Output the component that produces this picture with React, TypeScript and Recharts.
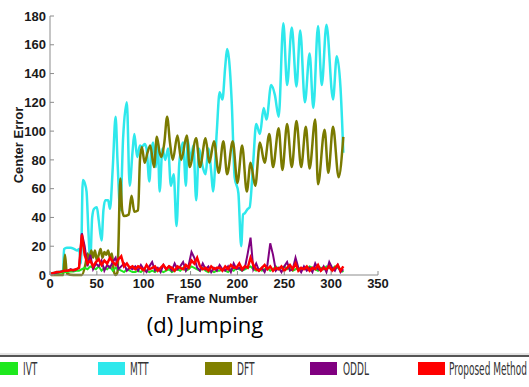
import React from 'react';
import { LineChart, Line, XAxis, YAxis } from 'recharts';

// MTT and DFT: frames where the curve turns
const mttFrames = [1, 8, 14, 15, 18, 22, 26, 29, 31, 33, 35, 37, 39, 41, 43, 45, 47, 50, 52, 55, 57, 59, 62, 64, 67, 70, 72, 75, 78, 82, 85, 88, 90, 93, 96, 98, 101, 103, 106, 108, 110, 113, 115, 117, 120, 123, 126, 129, 132, 135, 138, 142, 145, 147, 150, 153, 156, 159, 163, 166, 169, 172, 174, 178, 181, 184, 187, 189, 191, 194, 197, 201, 204, 206, 208, 211, 213, 217, 220, 224, 228, 231, 236, 240, 244, 249, 253, 258, 263, 267, 272, 277, 281, 286, 290, 295, 302, 306, 310, 313];
const mttValues = [1, 2, 3, 18, 19, 19, 18, 17, 18, 8, 66, 64, 58, 30, 10, 40, 46, 47, 38, 24, 45, 52, 52, 46, 75, 110, 80, 45, 95, 120, 62, 85, 98, 82, 90, 89, 91, 88, 65, 85, 92, 75, 93, 58, 88, 80, 88, 62, 70, 34, 78, 92, 62, 94, 80, 90, 52, 88, 75, 70, 88, 72, 58, 100, 127, 122, 145, 157, 150, 119, 68, 57, 20, 42, 43, 46, 47, 80, 105, 98, 116, 108, 132, 125, 110, 175, 132, 172, 131, 170, 120, 154, 116, 173, 132, 174, 122, 152, 130, 85];

const dftFrames = [1, 10, 14, 16, 18, 25, 34, 38, 40, 42, 44, 46, 48, 50, 52, 54, 56, 58, 60, 62, 64, 66, 68, 70, 72, 73, 75, 77, 79, 84, 87, 90, 94, 96, 98, 101, 104, 107, 111, 114, 117, 119, 122, 125, 128, 131, 136, 140, 146, 149, 156, 160, 166, 170, 175, 180, 185, 189, 195, 200, 205, 210, 214, 219, 224, 229, 234, 238, 244, 248, 253, 258, 263, 268, 273, 277, 283, 286, 293, 297, 302, 308, 313];
const dftValues = [0, 0, 0, 14, 1, 0, 0, 8, 15, 10, 17, 12, 17, 10, 14, 18, 12, 16, 14, 17, 12, 15, 3, 0, 2, 20, 67, 45, 41, 42, 55, 44, 45, 80, 89, 78, 85, 90, 75, 96, 85, 82, 92, 110, 92, 80, 97, 80, 97, 75, 95, 75, 95, 78, 93, 71, 93, 70, 93, 64, 90, 58, 78, 62, 92, 78, 98, 75, 102, 73, 105, 75, 107, 75, 103, 74, 108, 63, 101, 71, 103, 68, 96];

// IVT, ODDL and the proposed method: every third frame, 1..313
const lowFrames = [
  1, 4, 7, 10, 13, 16, 19, 22, 25, 28, 31, 34, 37, 40, 43,
  46, 49, 52, 55, 58, 61, 64, 67, 70, 73, 76, 79, 82, 85, 88,
  91, 94, 97, 100, 103, 106, 109, 112, 115, 118, 121, 124, 127, 130, 133,
  136, 139, 142, 145, 148, 151, 154, 157, 160, 163, 166, 169, 172, 175, 178,
  181, 184, 187, 190, 193, 196, 199, 202, 205, 208, 211, 214, 217, 220, 223,
  226, 229, 232, 235, 238, 241, 244, 247, 250, 253, 256, 259, 262, 265, 268,
  271, 274, 277, 280, 283, 286, 289, 292, 295, 298, 301, 304, 307, 310, 313,
];
const ivtValues = [
  0.5, 1, 1, 1.5, 1.5, 2, 2, 2.5, 2.5, 3, 3, 4, 5, 4, 6,
  5, 4, 6, 3, 5, 4, 6, 3, 5, 4, 3, 2, 4, 3, 2,
  2, 3, 2, 4, 3, 2, 3, 2, 4, 3, 2, 3, 4, 2, 3,
  4, 3, 5, 3, 4, 6, 5, 4, 3, 5, 3, 2, 3, 2, 3,
  3, 4, 3, 2, 4, 3, 5, 4, 3, 4, 5, 6, 4, 3, 4,
  3, 4, 5, 3, 4, 6, 4, 5, 6, 4, 5, 3, 4, 5, 4,
  5, 4, 6, 5, 4, 3, 5, 4, 6, 5, 4, 6, 5, 4, 2,
];
const oddlValues = [
  0.5, 1, 1.5, 2, 2.5, 3, 3, 4, 3, 4, 5, 29, 20, 6, 14,
  4, 8, 6, 10, 3, 7, 5, 9, 12, 4, 6, 8, 3, 5, 4,
  6, 3, 7, 4, 2, 6, 9, 3, 5, 2, 7, 4, 6, 3, 8,
  4, 6, 9, 3, 7, 16, 12, 5, 3, 8, 4, 6, 2, 5, 3,
  7, 4, 3, 6, 2, 8, 4, 5, 3, 5, 15, 26, 4, 8, 3,
  5, 2, 7, 22, 14, 3, 5, 2, 6, 9, 3, 4, 12, 5, 2,
  6, 3, 5, 2, 8, 4, 3, 6, 2, 9, 5, 3, 7, 2, 4,
];
const proposedValues = [
  1, 1.5, 2, 2, 2.5, 3, 3, 3.5, 3.5, 4, 5, 28, 14, 8, 10,
  6, 9, 11, 7, 10, 8, 12, 9, 7, 11, 13, 6, 8, 5, 6,
  4, 6, 5, 3, 7, 4, 5, 6, 3, 5, 7, 4, 6, 5, 3,
  6, 5, 4, 7, 5, 10, 8, 12, 6, 4, 5, 3, 6, 4, 5,
  5, 3, 6, 4, 7, 5, 5, 8, 4, 6, 5, 12, 7, 4, 3,
  5, 7, 4, 6, 3, 5, 4, 6, 3, 5, 7, 4, 8, 3, 5,
  4, 6, 3, 5, 4, 7, 3, 5, 4, 6, 3, 5, 7, 3, 6,
];

const xTicks = [0, 50, 100, 150, 200, 250, 300, 350];
const yTicks = [0, 20, 40, 60, 80, 100, 120, 140, 160, 180];

const legendItems = [
  { name: 'IVT', color: '#1ee81e', box: -9, text: 23 },
  { name: 'MTT', color: '#2ee8ec', box: 98, text: 130 },
  { name: 'DFT', color: '#808000', box: 205, text: 237 },
  { name: 'ODDL', color: '#800080', box: 310, text: 343 },
  { name: 'Proposed Method', color: '#ff0000', box: 418, text: 449 },
];

const toPoints = (frames: number[], values: number[]) =>
  frames.map((frame, i) => ({ frame, value: values[i] }));

const frameColor = '#8c8c8c';
const tickFont = {
  fontSize: 13,
  fontWeight: 'bold',
  fontFamily: '"Liberation Sans", Arial, sans-serif',
  fill: '#1a1a1a',
};

export default function App() {
  return (
    <div
      style={{
        position: 'absolute',
        left: 0,
        top: 0,
        width: 529,
        height: 387,
        background: '#fff',
        overflow: 'hidden',
      }}
    >
      <LineChart width={529} height={300} margin={{ top: 16, right: 151, left: 0, bottom: 0 }}>
        <XAxis
          dataKey="frame"
          type="number"
          domain={[0, 350]}
          ticks={xTicks}
          height={25}
          tickSize={-4}
          tickMargin={8}
          stroke={frameColor}
          tick={tickFont}
        />
        <XAxis
          xAxisId="top"
          orientation="top"
          type="number"
          domain={[0, 350]}
          ticks={xTicks}
          height={0}
          tickSize={-4}
          tickFormatter={() => ''}
          stroke={frameColor}
        />
        <YAxis
          type="number"
          domain={[0, 180]}
          ticks={yTicks}
          width={50}
          tickSize={-4}
          tickMargin={8}
          stroke={frameColor}
          tick={tickFont}
        />
        <YAxis
          yAxisId="right"
          orientation="right"
          type="number"
          domain={[0, 180]}
          ticks={yTicks}
          width={0}
          tickSize={-4}
          tickFormatter={() => ''}
          stroke={frameColor}
        />
        <Line
          data={toPoints(mttFrames, mttValues)}
          dataKey="value"
          type="monotone"
          stroke="#2ee8ec"
          strokeWidth={2.5}
          dot={false}
          isAnimationActive={false}
        />
        <Line
          data={toPoints(dftFrames, dftValues)}
          dataKey="value"
          type="monotone"
          stroke="#7a7a00"
          strokeWidth={2.5}
          dot={false}
          isAnimationActive={false}
        />
        <Line
          data={toPoints(lowFrames, ivtValues)}
          dataKey="value"
          type="linear"
          stroke="#1ee81e"
          strokeWidth={2}
          dot={false}
          isAnimationActive={false}
        />
        <Line
          data={toPoints(lowFrames, oddlValues)}
          dataKey="value"
          type="linear"
          stroke="#800080"
          strokeWidth={2}
          dot={false}
          isAnimationActive={false}
        />
        <Line
          data={toPoints(lowFrames, proposedValues)}
          dataKey="value"
          type="linear"
          stroke="#ff0000"
          strokeWidth={2.5}
          dot={false}
          isAnimationActive={false}
        />
      </LineChart>

      <div
        style={{
          position: 'absolute',
          left: 18,
          top: 145,
          transform: 'translate(-50%, -50%) rotate(-90deg)',
          whiteSpace: 'nowrap',
          font: 'bold 13px "Liberation Sans", Arial, sans-serif',
          color: '#1a1a1a',
        }}
      >
        Center Error
      </div>
      <div
        style={{
          position: 'absolute',
          left: 212,
          top: 298,
          transform: 'translate(-50%, -50%)',
          whiteSpace: 'nowrap',
          font: 'bold 13px "Liberation Sans", Arial, sans-serif',
          color: '#1a1a1a',
        }}
      >
        Frame Number
      </div>
      <div
        style={{
          position: 'absolute',
          left: 205,
          top: 324,
          transform: 'translate(-50%, -50%)',
          whiteSpace: 'nowrap',
          font: '22px "Open Sans", sans-serif',
          color: '#000',
        }}
      >
        (d) Jumping
      </div>

      <svg width={529} height={34} style={{ position: 'absolute', left: 0, top: 353 }}>
        <line x1={0} x2={529} y1={1} y2={1} stroke="#c8c8c8" strokeWidth={1} />
        <line x1={0} x2={529} y1={3} y2={3} stroke="#555" strokeWidth={2} />
        {legendItems.map((item) => (
          <g key={item.name}>
            <rect x={item.box} y={9} width={27} height={13} fill={item.color} />
            {/* tall, narrow lettering: narrow font stretched vertically */}
            <text
              transform={`translate(${item.text},22) scale(1,1.8)`}
              fontSize={10}
              fontFamily='"Liberation Sans Narrow", "DejaVu Sans Condensed", sans-serif'
              fill="#333"
            >
              {item.name}
            </text>
          </g>
        ))}
      </svg>
    </div>
  );
}
